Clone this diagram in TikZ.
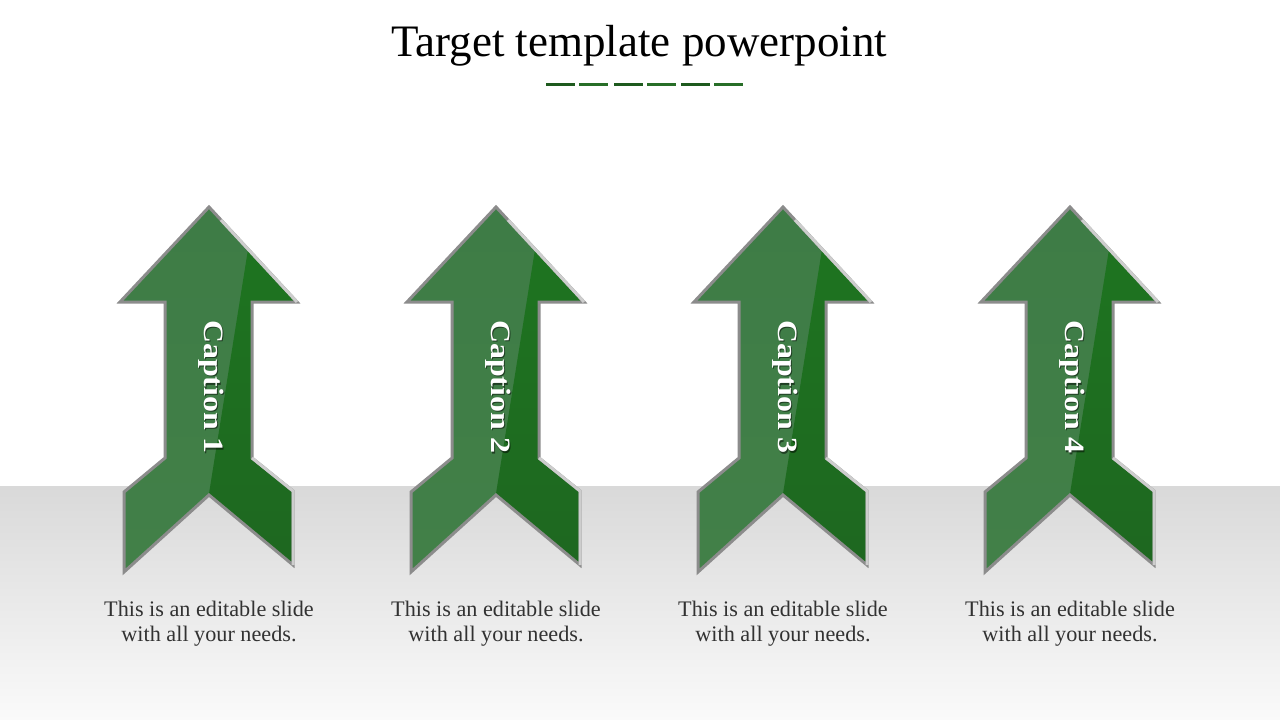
\documentclass[tikz,border=0pt]{standalone}
\usepackage{fontspec}
\setmainfont{Liberation Serif}
\definecolor{floortop}{RGB}{217,217,217}
\definecolor{floorbot}{RGB}{250,250,250}
\definecolor{dashA}{RGB}{30,90,30}
\definecolor{dashB}{RGB}{40,110,40}
\definecolor{lgA}{RGB}{62,124,70}
\definecolor{lgM}{RGB}{80,160,82}
\definecolor{lgB}{RGB}{66,128,72}
\definecolor{dgA}{RGB}{30,118,32}
\definecolor{dgM}{RGB}{44,146,44}
\definecolor{dgB}{RGB}{30,102,32}
\definecolor{borderdark}{RGB}{140,140,140}
\definecolor{borderlight}{RGB}{205,205,205}
\definecolor{desctext}{RGB}{50,50,50}
\newcommand\arrowpath{(0,207) -- (88,302) -- (43,302) -- (43,458) -- (84,491) -- (84,565) -- (0,495) -- (-85,572) -- (-85,492) -- (-44,458) -- (-44,302) -- (-89,302) -- cycle}
\tikzset{
  titletext/.style={font=\fontsize{45}{52}\selectfont, text=black},
  dashseg/.style={line width=3pt},
  captiontext/.style={rotate=-90, text=white, font=\fontsize{28}{32}\selectfont\bfseries},
  captionshadow/.style={rotate=-90, text=black, opacity=0.5, font=\fontsize{28}{32}\selectfont\bfseries},
  desc/.style={align=center, text=desctext, font=\fontsize{22.2}{25}\selectfont},
  arrowborder/.style={line width=3pt, draw=borderdark, line join=miter},
}
\begin{document}
\begin{tikzpicture}[x=1pt,y=-1pt]
\useasboundingbox (0,0) rectangle (1280,720);
\fill[white] (0,0) rectangle (1280,486);
\shade[top color=floortop,bottom color=floorbot] (0,486) rectangle (1280,720);
\node[titletext] (title) at (639,46) {Target template powerpoint};
\foreach \x/\c in {546/dashA,579/dashB,614/dashA,647/dashB,681/dashA,714/dashB}
  \draw[dashseg,\c] (\x,84) -- ++(29,0);
\foreach \cx/\n in {209/1,496/2,783/3,1070/4}{
  \begin{scope}[shift={(\cx,0)}]
    \begin{scope}
      \clip \arrowpath;
      \shade[top color=lgA, middle color=lgM, bottom color=lgB] (-100,205) rectangle (100,575);
      \shade[top color=dgA, middle color=dgM, bottom color=dgB] (48.5,190) -- (150,190) -- (150,600) -- (-17,600) -- cycle;
    \end{scope}
    \draw[arrowborder] \arrowpath;
    \draw[line width=3pt, borderlight] (12,220) -- (88,302);
    \draw[line width=3pt, borderlight] (43,458) -- (84,491) -- (84,565);
    \node[captionshadow] (cs\n) at (3.5,388.5) {\scalebox{1.14}[1]{Caption \n}};
    \node[captiontext] (cap\n) at (2,387) {\scalebox{1.14}[1]{Caption \n}};
  \end{scope}
  \node[desc] (desc\n) at (\cx,624) {This is an editable slide\\with all your needs.};
}
\end{tikzpicture}
\end{document}
